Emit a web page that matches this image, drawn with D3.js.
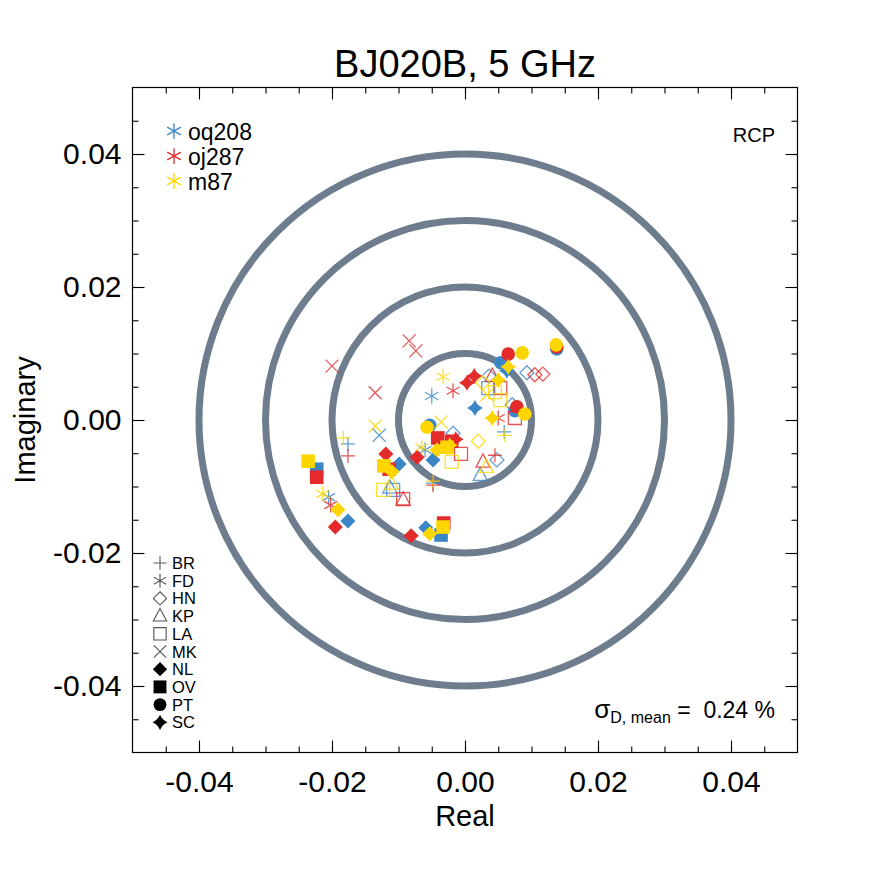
<!DOCTYPE html>
<html>
<head>
<meta charset="utf-8">
<script src="https://cdn.jsdelivr.net/npm/d3@7"></script>
<style>
  body { margin: 0; background: #fff; }
  text { font-family: "Liberation Sans", Arial, Helvetica, sans-serif; fill: #000; }
</style>
</head>
<body>
<div id="chart"></div>
<script>
// sources and stations
const sources = ['oq208', 'oj287', 'm87'];
const sourceColors = ['#3a86c6', '#e42a2a', '#fdd600'];
const stations = ['BR', 'FD', 'HN', 'KP', 'LA', 'MK', 'NL', 'OV', 'PT', 'SC'];
const ringRadii = [0.01, 0.02, 0.03, 0.04];
const majorTicks = [-0.04, -0.02, 0.00, 0.02, 0.04];
const minorTicks = d3.range(-45, 50, 5).map(d => d / 1000);

// [station, real, imaginary]
const oq208Pts = [
  ['PT', 0.0138, 0.0107], ['PT', 0.0054, 0.0086], ['PT', 0.0075, 0.0014], ['PT', -0.0053, -0.0008],
  ['SC', 0.0063, 0.0074], ['SC', 0.0015, 0.0018],
  ['FD', -0.0050, 0.0036], ['FD', -0.0205, -0.0116], ['FD', -0.0060, -0.0045],
  ['OV', -0.0223, -0.0074], ['OV', -0.0036, -0.0173],
  ['NL', -0.0176, -0.0152], ['NL', -0.0099, -0.0066], ['NL', -0.0059, -0.0162], ['NL', -0.0048, -0.0060],
  ['BR', -0.0176, -0.0036], ['BR', 0.0059, -0.0018], ['BR', -0.0048, -0.0095],
  ['LA', -0.0108, -0.0105], ['LA', 0.0035, 0.0048],
  ['KP', -0.0113, -0.0102], ['KP', 0.0023, -0.0083],
  ['HN', 0.0036, 0.0066], ['HN', 0.0093, 0.0071], ['HN', 0.0048, -0.0060], ['HN', -0.0018, -0.0020], ['HN', 0.0071, 0.0023],
  ['MK', -0.0129, -0.0023]
];
const oj287Pts = [
  ['PT', 0.0138, 0.0110], ['PT', 0.0065, 0.0099], ['PT', 0.0078, 0.0020],
  ['OV', -0.0041, -0.0027], ['OV', -0.0020, -0.0032], ['OV', -0.0223, -0.0086], ['OV', -0.0114, -0.0074], ['OV', -0.0032, -0.0155],
  ['NL', -0.0195, -0.0161], ['NL', -0.0119, -0.0051], ['NL', -0.0081, -0.0174], ['NL', -0.0072, -0.0056],
  ['SC', 0.0003, 0.0056], ['SC', 0.0014, 0.0066], ['SC', -0.0014, -0.0029],
  ['FD', -0.0018, 0.0044], ['FD', -0.0202, -0.0128], ['FD', 0.0050, 0.0003],
  ['MK', -0.0084, 0.0119], ['MK', -0.0074, 0.0104], ['MK', -0.0200, 0.0081], ['MK', -0.0135, 0.0041],
  ['BR', -0.0176, -0.0054], ['BR', 0.0045, -0.0053], ['BR', -0.0048, -0.0098],
  ['LA', -0.0093, -0.0119], ['LA', -0.0006, -0.0051], ['LA', 0.0075, 0.0003], ['LA', 0.0053, 0.0048],
  ['KP', -0.0093, -0.0120], ['KP', 0.0027, -0.0063], ['KP', 0.0041, 0.0066],
  ['HN', 0.0105, 0.0068], ['HN', 0.0117, 0.0069]
];
const m87Pts = [
  ['PT', 0.0137, 0.0113], ['PT', 0.0086, 0.0101], ['PT', 0.0090, 0.0009], ['PT', -0.0057, -0.0011],
  ['OV', -0.0236, -0.0062], ['OV', -0.0122, -0.0069], ['OV', -0.0033, -0.0161], ['OV', -0.0027, -0.0041],
  ['NL', -0.0191, -0.0135], ['NL', -0.0110, -0.0078], ['NL', -0.0053, -0.0171], ['NL', -0.0042, -0.0045],
  ['SC', 0.0065, 0.0080], ['SC', 0.0050, 0.0060], ['SC', 0.0041, 0.0003], ['SC', -0.0023, -0.0038],
  ['FD', -0.0033, 0.0065], ['FD', -0.0214, -0.0111], ['FD', -0.0065, -0.0041],
  ['MK', -0.0135, -0.0009], ['MK', -0.0036, -0.0003], ['MK', 0.0033, 0.0038],
  ['BR', -0.0183, -0.0027], ['BR', 0.0060, -0.0023], ['BR', -0.0048, -0.0092],
  ['LA', -0.0123, -0.0105], ['LA', -0.0020, -0.0063], ['LA', 0.0045, 0.0042], ['LA', 0.0053, 0.0030],
  ['KP', 0.0032, -0.0071], ['KP', -0.0111, -0.0096],
  ['HN', 0.0020, -0.0032], ['HN', 0.0027, 0.0056]
];
const sourcePts = [oq208Pts, oj287Pts, m87Pts];

const width = 886, height = 886;
const x = d3.scaleLinear().domain([-0.05, 0.05]).range([132.5, 797.5]);
const y = d3.scaleLinear().domain([-0.05, 0.05]).range([752.5, 87.5]);
const fmt = v => v.toFixed(2);

const svg = d3.select('#chart').append('svg')
  .attr('width', width)
  .attr('height', height);

// marker shapes, drawn around 0,0
function markerPath(st, k) {
  k = k || 1;
  let s;
  switch (st) {
    case 'BR': s = 7 * k; return { d: `M${-s},0H${s}M0,${-s}V${s}`, fill: false };
    case 'FD': {
      s = 7.5 * k;
      let d = '';
      [90, 30, 150].forEach(a => {
        let r = a * Math.PI / 180, cx = s * Math.cos(r), cy = s * Math.sin(r);
        d += `M${cx},${-cy}L${-cx},${cy}`;
      });
      return { d: d, fill: false };
    }
    case 'HN': s = 7 * k; return { d: `M0,${-s}L${s},0L0,${s}L${-s},0Z`, fill: false };
    case 'KP': s = 8 * k; return { d: `M0,${-s}L${s * 0.88},${s * 0.65}L${-s * 0.88},${s * 0.65}Z`, fill: false };
    case 'LA': s = 6.5 * k; return { d: `M${-s},${-s}H${s}V${s}H${-s}Z`, fill: false };
    case 'MK': s = 6.5 * k; return { d: `M${-s},${-s}L${s},${s}M${s},${-s}L${-s},${s}`, fill: false };
    case 'NL': s = 7.5 * k; return { d: `M0,${-s}L${s},0L0,${s}L${-s},0Z`, fill: true };
    case 'OV': s = 6.8 * k; return { d: `M${-s},${-s}H${s}V${s}H${-s}Z`, fill: true };
    case 'PT': s = 6.8 * k; return { d: `M${s},0A${s},${s} 0 1,1 ${-s},0A${s},${s} 0 1,1 ${s},0Z`, fill: true };
    case 'SC': {
      s = 8 * k;
      let i = s * 0.3;
      return { d: `M0,${-s}Q${i},${-i} ${s},0Q${i},${i} 0,${s}Q${-i},${i} ${-s},0Q${-i},${-i} 0,${-s}Z`, fill: true };
    }
  }
}

// rings
svg.append('g')
  .classed('rings', true)
  .selectAll('circle')
  .data(ringRadii)
  .enter()
  .append('circle')
  .attr('cx', x(0))
  .attr('cy', y(0))
  .attr('r', d => x(d) - x(0))
  .attr('fill', 'none')
  .attr('stroke', '#6d7d8d')
  .attr('stroke-width', 7);

// data points, one layer per source
let pointLayer = svg.append('g').classed('points', true);
sourcePts.forEach((pts, si) => {
  let color = sourceColors[si];
  pointLayer.append('g')
    .selectAll('path')
    .data(pts)
    .enter()
    .append('path')
    .attr('transform', d => `translate(${x(d[1])},${y(d[2])})`)
    .attr('d', d => markerPath(d[0]).d)
    .attr('fill', d => markerPath(d[0]).fill ? color : 'none')
    .attr('stroke', d => markerPath(d[0]).fill ? 'none' : color)
    .attr('stroke-width', 1.3)
    .attr('stroke-opacity', 0.8);
});

// frame and ticks
svg.append('rect')
  .attr('x', x(-0.05))
  .attr('y', y(0.05))
  .attr('width', x(0.05) - x(-0.05))
  .attr('height', y(-0.05) - y(0.05))
  .attr('fill', 'none')
  .attr('stroke', '#000')
  .attr('stroke-width', 1.2);

function addAxis(axis, tx, ty, size, values, labels) {
  let g = svg.append('g')
    .attr('transform', `translate(${tx},${ty})`)
    .call(axis.tickValues(values).tickSize(size).tickFormat(labels ? fmt : ''));
  g.select('.domain').remove();
  g.selectAll('line').attr('stroke', '#000').attr('stroke-width', 1.1);
  g.selectAll('text')
    .style('font-family', '"Liberation Sans", Arial, sans-serif')
    .style('font-size', '30px')
    .attr('fill', '#000');
  return g;
}

[[minorTicks, -6, false], [majorTicks, -12, true]].forEach(([vals, size, lab]) => {
  addAxis(d3.axisBottom(x).tickPadding(18), 0, y(-0.05), size, vals, lab);
  addAxis(d3.axisTop(x), 0, y(0.05), size, vals, false);
  addAxis(d3.axisLeft(y).tickPadding(11), x(-0.05), 0, size, vals, lab);
  addAxis(d3.axisRight(y), x(0.05), 0, size, vals, false);
});

// titles
svg.append('text')
  .attr('x', x(0))
  .attr('y', 77)
  .attr('text-anchor', 'middle')
  .style('font-size', '38px')
  .text('BJ020B, 5 GHz');

svg.append('text')
  .attr('x', x(0))
  .attr('y', 826)
  .attr('text-anchor', 'middle')
  .style('font-size', '29px')
  .text('Real');

svg.append('text')
  .attr('transform', `translate(35,${y(0)}) rotate(-90)`)
  .attr('text-anchor', 'middle')
  .style('font-size', '29px')
  .text('Imaginary');

svg.append('text')
  .attr('x', 775)
  .attr('y', 142)
  .attr('text-anchor', 'end')
  .style('font-size', '20px')
  .text('RCP');

// sigma label
let sig = svg.append('text')
  .attr('x', 775)
  .attr('y', 718)
  .attr('text-anchor', 'end')
  .style('white-space', 'pre')
  .style('font-size', '23px');
sig.append('tspan').style('font-size', '26px').text('σ');
sig.append('tspan').attr('dy', 5).style('font-size', '16px').text('D, mean');
sig.append('tspan').attr('dy', -5).text(' =  0.24 %');

// source legend
let srcLegend = svg.append('g').classed('source-legend', true);
sources.forEach((name, i) => {
  let row = srcLegend.append('g')
    .attr('transform', `translate(174,${131 + i * 25})`);
  row.append('path')
    .attr('d', markerPath('FD', 1.05).d)
    .attr('fill', 'none')
    .attr('stroke', sourceColors[i])
    .attr('stroke-width', 1.3);
  row.append('text')
    .attr('x', 14)
    .attr('y', 8.5)
    .style('font-size', '23px')
    .text(name);
});

// station legend
let stLegend = svg.append('g').classed('station-legend', true);
stations.forEach((st, i) => {
  let m = markerPath(st, 0.95);
  let row = stLegend.append('g')
    .attr('transform', `translate(160,${563 + i * 17.7})`);
  row.append('path')
    .attr('d', m.d)
    .attr('fill', m.fill ? '#000' : 'none')
    .attr('stroke', m.fill ? 'none' : '#555')
    .attr('stroke-width', 1.1);
  row.append('text')
    .attr('x', 12)
    .attr('y', 6)
    .style('font-size', '16.5px')
    .text(st);
});
</script>
</body>
</html>
